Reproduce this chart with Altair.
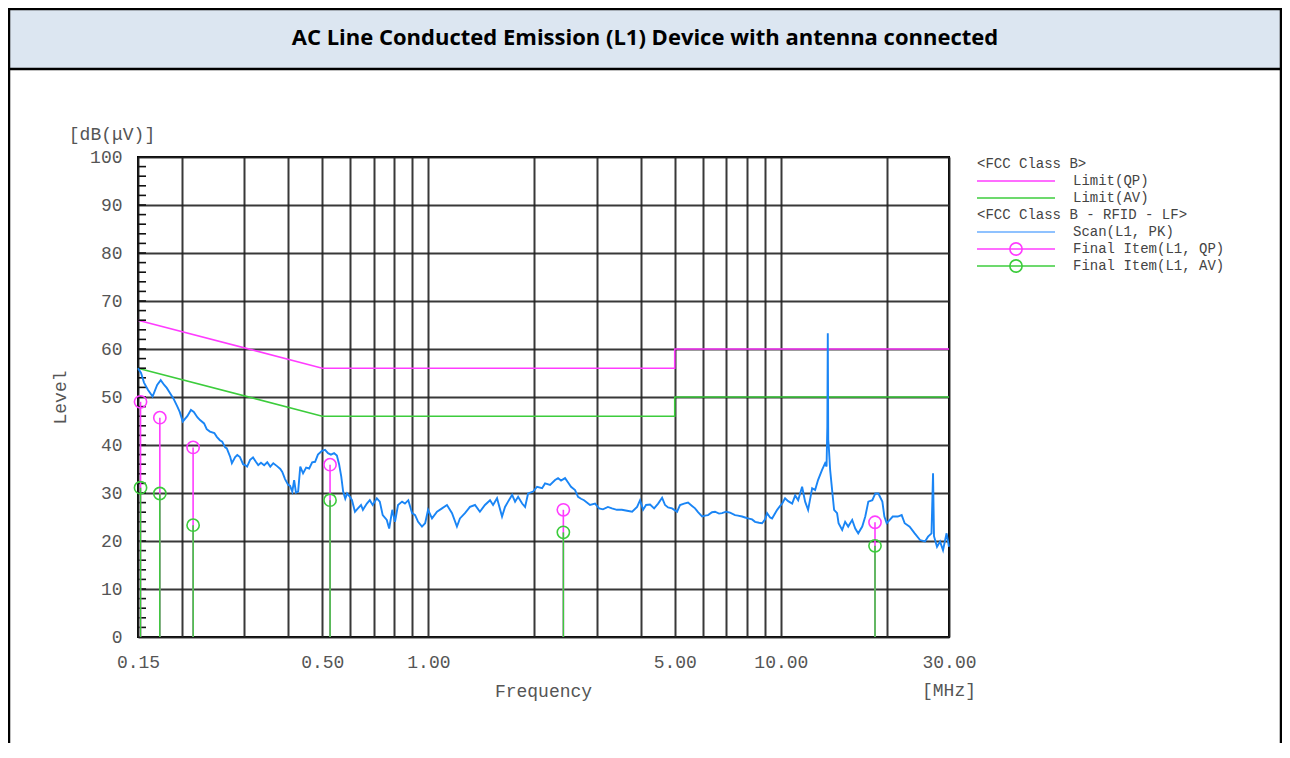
import altair as alt
import pandas as pd

# ---------------- data ----------------
limit_f = [0.15, 0.5, 5.0, 5.0, 30.0]
limit_qp = [66.0, 56.0, 56.0, 60.0, 60.0]
limit_av = [56.0, 46.0, 46.0, 50.0, 50.0]

final_f = [0.1525, 0.173, 0.215, 0.526, 2.415, 18.5]
final_qp = [49.0, 45.7, 39.5, 35.9, 26.5, 23.9]
final_av = [31.1, 29.9, 23.3, 28.5, 21.8, 19.0]

scan_f = [
    0.150, 0.153, 0.156, 0.160, 0.165, 0.170, 0.174, 0.178, 0.181, 0.185,
    0.189, 0.194, 0.197, 0.201, 0.207, 0.212, 0.216, 0.221, 0.225, 0.231,
    0.235, 0.240, 0.247, 0.251, 0.256, 0.260, 0.265, 0.268, 0.274, 0.277,
    0.283, 0.287, 0.292, 0.298, 0.302, 0.306, 0.312, 0.318, 0.324, 0.329,
    0.335, 0.342, 0.349, 0.356, 0.363, 0.372, 0.380, 0.385, 0.392, 0.400,
    0.405, 0.411, 0.416, 0.421, 0.427, 0.433, 0.441, 0.450, 0.459, 0.468,
    0.477, 0.486, 0.499, 0.509, 0.519, 0.529, 0.540, 0.550, 0.558, 0.566,
    0.573, 0.581, 0.588, 0.599, 0.607, 0.619, 0.631, 0.644, 0.652, 0.669,
    0.682, 0.695, 0.714, 0.728, 0.742, 0.762, 0.774, 0.790, 0.804, 0.820,
    0.842, 0.858, 0.877, 0.899, 0.917, 0.935, 0.959, 0.979, 0.998, 1.024,
    1.058, 1.093, 1.129, 1.167, 1.205, 1.229, 1.270, 1.312, 1.356, 1.400,
    1.447, 1.496, 1.526, 1.566, 1.618, 1.650, 1.683, 1.728, 1.762, 1.797,
    1.845, 1.881, 1.918, 1.982, 2.034, 2.102, 2.143, 2.214, 2.288, 2.333,
    2.379, 2.442, 2.491, 2.539, 2.607, 2.658, 2.711, 2.765, 2.875, 2.971,
    3.050, 3.128, 3.231, 3.317, 3.426, 3.539, 3.662, 3.785, 3.910, 3.987,
    4.066, 4.146, 4.256, 4.370, 4.486, 4.604, 4.693, 4.786, 4.913, 5.076,
    5.176, 5.314, 5.454, 5.599, 5.709, 5.822, 5.977, 6.095, 6.215, 6.380,
    6.506, 6.678, 6.811, 6.991, 7.176, 7.414, 7.561, 7.762, 7.917, 8.074,
    8.286, 8.450, 8.674, 8.849, 9.023, 9.142, 9.322, 9.445, 9.634, 9.762,
    9.954, 10.09, 10.28, 10.49, 10.77, 10.98, 11.20, 11.49, 11.72, 11.95,
    12.27, 12.51, 12.75, 13.09, 13.35, 13.48, 13.55, 13.59, 13.63, 13.68,
    13.80, 13.98, 14.16, 14.44, 14.58, 14.93, 15.22, 15.53, 15.94, 16.26,
    16.58, 17.02, 17.36, 17.71, 18.18, 18.54, 18.91, 19.41, 19.67, 19.97,
    20.37, 20.77, 21.46, 22.02, 22.46, 23.20, 23.98, 24.83, 25.65, 26.16,
    26.76, 27.03, 27.20, 27.74, 28.29, 28.85, 29.53, 30.00,
]
scan_v = [
    56.0, 55.0, 53.0, 51.5, 50.1, 52.5, 53.5, 52.5, 51.9, 50.8,
    49.7, 48.0, 46.9, 44.9, 46.0, 47.3, 46.9, 45.8, 45.2, 44.5,
    43.3, 42.8, 42.5, 41.7, 41.0, 40.7, 39.5, 39.3, 37.5, 36.2,
    37.5, 37.9, 37.5, 36.0, 35.8, 35.5, 36.9, 37.4, 36.5, 35.8,
    36.3, 35.8, 36.4, 35.5, 36.2, 35.6, 35.0, 34.4, 32.9, 31.7,
    31.5, 30.3, 32.7, 30.1, 30.3, 35.5, 34.1, 35.3, 35.1, 36.4,
    36.5, 38.0, 38.8, 39.0, 38.3, 38.0, 38.3, 37.8, 36.0, 33.4,
    30.3, 28.8, 29.9, 29.2, 28.5, 26.1, 26.8, 27.5, 26.5, 27.8,
    28.5, 27.5, 28.9, 28.2, 25.4, 24.4, 22.6, 26.5, 24.0, 27.5,
    28.2, 27.8, 28.5, 25.8, 25.4, 24.0, 23.0, 23.7, 26.5, 24.7,
    26.1, 26.8, 27.5, 25.8, 23.0, 24.7, 25.8, 27.1, 27.5, 26.1,
    27.5, 28.5, 27.5, 28.9, 25.1, 27.1, 28.2, 29.6, 28.2, 29.2,
    27.8, 27.1, 29.9, 30.3, 31.3, 31.0, 32.0, 31.7, 32.7, 33.1,
    32.6, 33.1, 32.2, 31.3, 30.6, 29.2, 28.8, 28.5, 27.5, 27.8,
    26.8, 26.6, 27.1, 26.8, 26.5, 26.5, 26.3, 26.1, 27.1, 28.5,
    26.5, 27.5, 27.6, 26.8, 27.8, 29.0, 27.5, 27.0, 26.8, 26.1,
    27.5, 27.8, 28.0, 27.3, 26.8, 26.0, 25.1, 25.3, 25.4, 26.0,
    26.1, 25.7, 25.8, 26.1, 25.9, 25.4, 25.3, 25.1, 24.9, 24.7,
    24.5, 24.0, 23.8, 23.7, 24.5, 25.8, 24.9, 24.7, 25.8, 26.5,
    27.3, 27.8, 28.9, 28.3, 27.8, 29.5, 28.5, 31.3, 28.2, 26.5,
    31.0, 30.6, 32.7, 34.8, 36.2, 35.5, 43.8, 63.3, 41.0, 39.6,
    34.8, 30.6, 26.5, 25.8, 23.7, 22.3, 24.0, 23.0, 24.4, 22.6,
    21.6, 23.0, 25.1, 28.2, 28.5, 29.9, 29.9, 28.2, 25.1, 23.7,
    24.4, 25.1, 25.1, 25.4, 23.7, 23.0, 21.6, 20.2, 19.9, 20.9,
    21.6, 34.1, 21.0, 18.8, 19.9, 18.1, 21.6, 18.8,
]

grid_f = [0.15, 0.2, 0.3, 0.4, 0.5, 0.6, 0.7, 0.8, 0.9, 1, 2, 3, 4, 5, 6, 7, 8, 9, 10, 20, 30]
label_f = [0.15, 0.5, 1, 5, 10, 30]
y_ticks = list(range(0, 101, 10))
y_minor = list(range(2, 100, 2))

legend_labels = ["<FCC Class B>", "Limit(QP)", "Limit(AV)", "<FCC Class B - RFID - LF>",
                 "Scan(L1, PK)", "Final Item(L1, QP)", "Final Item(L1, AV)"]

title_text = "AC Line Conducted Emission (L1) Device with antenna connected"

# ---------------- styling ----------------
MAGENTA = "#ff3cff"
GREEN = "#3ccc3c"
BLUE = "#1a85f5"
LBLUE = "#6aaeff"
MONO = "Liberation Mono"
TXT = "#555555"
FS = 18

W, H = 811, 480

label_expr = ("indexof([" + ",".join(str(v) for v in label_f) + "], datum.value) >= 0 ? "
              "format(datum.value, '.2f') : ''")

X = alt.X("f:Q",
          scale=alt.Scale(type="log", domain=[0.15, 30], nice=False),
          axis=alt.Axis(values=grid_f, labelExpr=label_expr, labelFlush=False,
                        labelOverlap=False, ticks=False, tickSize=0, domain=False,
                        labelFont=MONO, labelFontSize=FS, labelColor=TXT,
                        labelPadding=16, labelBaseline="top",
                        gridColor="#222222", gridWidth=2, gridOpacity=0.9,
                        title="Frequency", titleFont=MONO, titleFontSize=FS,
                        titleFontWeight="normal", titleColor=TXT,
                        titleX=405, titleY=54, titleAlign="center",
                        titleBaseline="middle"))
Y = alt.Y("v:Q",
          scale=alt.Scale(domain=[0, 100], nice=False),
          axis=alt.Axis(values=y_ticks, ticks=False, tickSize=0, domain=False,
                        labelFont=MONO, labelFontSize=FS, labelColor=TXT,
                        labelPadding=16, labelBaseline="middle",
                        gridColor="#222222", gridWidth=2, gridOpacity=0.9,
                        title="Level", titleFont=MONO, titleFontSize=FS,
                        titleFontWeight="normal", titleColor=TXT,
                        titleX=-78, titleY=240, titleAngle=270,
                        titleAlign="center", titleBaseline="middle"))

qp_lim_df = pd.DataFrame({"f": limit_f, "v": limit_qp, "i": list(range(len(limit_f)))})
av_lim_df = pd.DataFrame({"f": limit_f, "v": limit_av, "i": list(range(len(limit_f)))})
scan_df = pd.DataFrame({"f": scan_f, "v": scan_v, "i": list(range(len(scan_f)))})
qp_df = pd.DataFrame({"f": final_f, "v": final_qp})
av_df = pd.DataFrame({"f": final_f, "v": final_av})
minor_df = pd.DataFrame({"v": y_minor})

layers = []

# data layers (first, so the shared axes come from here)
layers.append(alt.Chart(qp_lim_df).mark_line(color=MAGENTA, strokeWidth=1.6).encode(
    x=X, y=Y, order="i:Q"))
layers.append(alt.Chart(av_lim_df).mark_line(color=GREEN, strokeWidth=1.6).encode(
    x=X, y=Y, order="i:Q"))
layers.append(alt.Chart(minor_df).mark_rule(color="#111111", strokeWidth=1.6).encode(
    y=Y, x=alt.value(0), x2=alt.value(8)))
layers.append(alt.Chart(scan_df).mark_line(color=BLUE, strokeWidth=1.9).encode(
    x=X, y=Y, order="i:Q"))
layers.append(alt.Chart(qp_df).mark_rule(color=MAGENTA, strokeWidth=1.6).encode(
    x=X, y=Y, y2=alt.datum(0)))
layers.append(alt.Chart(av_df).mark_rule(color=GREEN, strokeWidth=1.6).encode(
    x=X, y=Y, y2=alt.datum(0)))
layers.append(alt.Chart(qp_df).mark_point(shape="circle", filled=False, size=150,
                                          color=MAGENTA, strokeWidth=1.6, opacity=1).encode(
    x=X, y=Y))
layers.append(alt.Chart(av_df).mark_point(shape="circle", filled=False, size=150,
                                          color=GREEN, strokeWidth=1.6, opacity=1).encode(
    x=X, y=Y))

# header box and table borders (decoration)
deco = pd.DataFrame({"k": [0]})
layers.append(alt.Chart(deco).mark_rect(fill="#dce6f1", stroke="#000000", strokeWidth=2.5).encode(
    x=alt.value(-129), x2=alt.value(1143), y=alt.value(-148), y2=alt.value(-88)))
for bx in (-129, 1143):
    layers.append(alt.Chart(deco).mark_rule(color="#000000", strokeWidth=2.5).encode(
        x=alt.value(bx), y=alt.value(-88), y2=alt.value(600)))
layers.append(alt.Chart(pd.DataFrame({"t": [title_text]})).mark_text(
    font="Open Sans", fontWeight="bold", fontSize=22, color="#000000",
    align="center", baseline="middle").encode(
    x=alt.value(507), y=alt.value(-119), text="t:N"))

# unit labels
layers.append(alt.Chart(pd.DataFrame({"t": ["[dB(\u03bcV)]"]})).mark_text(
    font=MONO, fontSize=FS, color=TXT, align="center", baseline="middle").encode(
    x=alt.value(-26), y=alt.value(-22), text="t:N"))
layers.append(alt.Chart(pd.DataFrame({"t": ["[MHz]"]})).mark_text(
    font=MONO, fontSize=FS, color=TXT, align="center", baseline="middle").encode(
    x=alt.value(811), y=alt.value(534), text="t:N"))

# custom legend (decoration)
row_y = [7, 24, 41, 58, 75, 92, 109]
line_colors = [None, MAGENTA, GREEN, None, LBLUE, MAGENTA, GREEN]
has_marker = [False, False, False, False, False, True, True]
for lab, ry, lc, mk in zip(legend_labels, row_y, line_colors, has_marker):
    tdf = pd.DataFrame({"t": [lab]})
    tx = 839 if lc is None else 935
    layers.append(alt.Chart(tdf).mark_text(
        font=MONO, fontSize=14, color="#444444", align="left", baseline="middle").encode(
        x=alt.value(tx), y=alt.value(ry), text="t:N"))
    if lc is not None:
        layers.append(alt.Chart(tdf).mark_rule(color=lc, strokeWidth=1.6).encode(
            x=alt.value(839), x2=alt.value(917), y=alt.value(ry)))
    if mk:
        layers.append(alt.Chart(tdf).mark_point(shape="circle", filled=False, size=150,
                                                color=lc, strokeWidth=1.6, opacity=1).encode(
            x=alt.value(878), y=alt.value(ry)))

chart = alt.layer(*layers).properties(
    width=W, height=H,
    autosize=alt.AutoSizeParams(type="none"),
    padding={"left": 130, "top": 149, "right": 333, "bottom": 106},
    background="white",
).configure_view(stroke="#000000", strokeWidth=2)

chart.save("out.html", embed_options={"renderer": "svg", "actions": False})
